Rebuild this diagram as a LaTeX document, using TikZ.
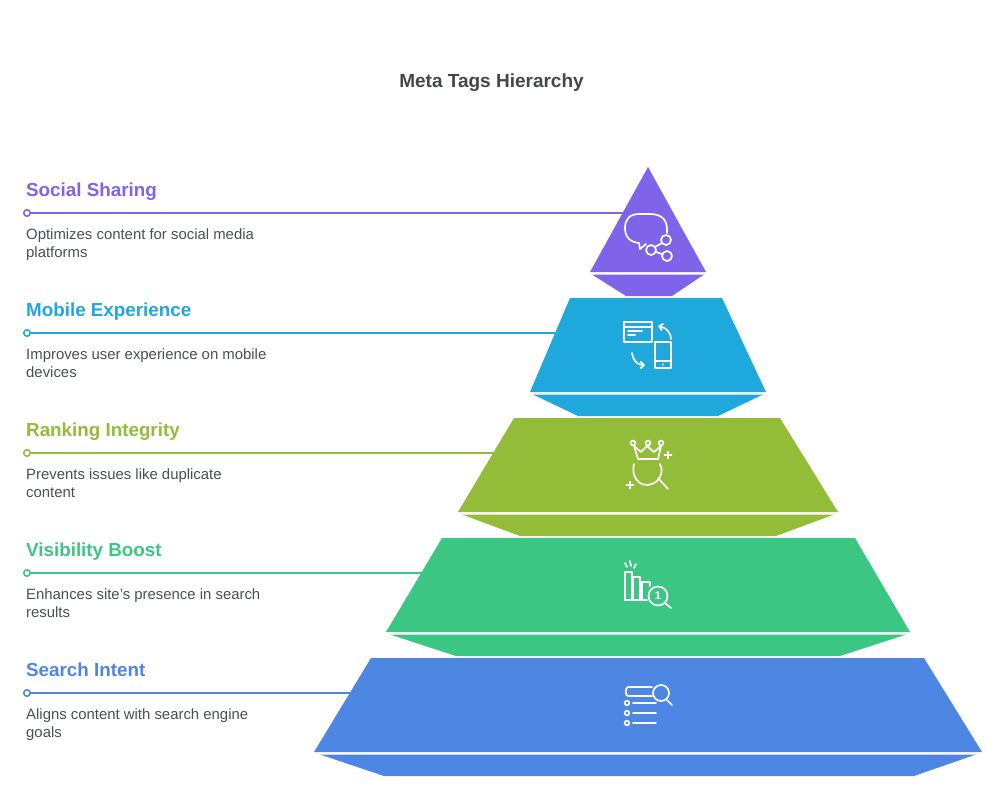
\documentclass[tikz,border=0pt]{standalone}
\usepackage{fontspec}
\setmainfont{Liberation Sans}
\usetikzlibrary{calc, arrows.meta}
\definecolor{socialcolor}{HTML}{7F63E8}
\definecolor{mobilecolor}{HTML}{1FA8DC}
\definecolor{rankingcolor}{HTML}{93BC38}
\definecolor{visibilitycolor}{HTML}{3CC684}
\definecolor{searchcolor}{HTML}{4E86E4}
\definecolor{bodygray}{HTML}{4A4E57}
\tikzset{
    heading/.style={anchor=base west, inner sep=0pt, font=\fontsize{18.8}{22}\selectfont\bfseries},
    blurb/.style={anchor=north west, inner sep=0pt, align=left, text=bodygray,
        font=\fontsize{14.9}{18}\selectfont, execute at begin node=\strut},
    leaderdot/.style={circle, draw, fill=white, line width=1.6pt, inner sep=0pt, minimum size=6.5pt},
    leader/.style={line width=1.6pt},
    iconline/.style={draw=white, line width=1.7pt, line cap=round, line join=round},
    iconarrow/.style={iconline, -{Straight Barb[length=3.5pt,width=7pt]}},
}
\begin{document}
\begin{tikzpicture}[x=1pt, y=-1pt]
    \useasboundingbox (0, 0) rectangle (1008, 804);

    \node[font=\fontsize{19}{22}\selectfont\bfseries, text=bodygray!90!black] (title) at (491.5, 83) {Meta Tags Hierarchy};

    % labels on the left
    \node[heading, text=socialcolor] (social) at (26, 196) {Social Sharing};
    \node[leaderdot, draw=socialcolor] (social_dot) at ($(social.base west)+(1, 17)$) {};
    \coordinate (social_end) at (626, 213);
    \node[blurb] (social_text) at ($(social.base west)+(0, 32.5)$) {Optimizes content for social media\\platforms};
    \draw[leader, socialcolor] (social_dot) -- (social_end);

    \node[heading, text=mobilecolor] (mobile) at (26, 316) {Mobile Experience};
    \node[leaderdot, draw=mobilecolor] (mobile_dot) at ($(mobile.base west)+(1, 17)$) {};
    \coordinate (mobile_end) at (560, 333);
    \node[blurb] (mobile_text) at ($(mobile.base west)+(0, 32.5)$) {Improves user experience on mobile\\devices};
    \draw[leader, mobilecolor] (mobile_dot) -- (mobile_end);

    \node[heading, text=rankingcolor] (ranking) at (26, 436) {Ranking Integrity};
    \node[leaderdot, draw=rankingcolor] (ranking_dot) at ($(ranking.base west)+(1, 17)$) {};
    \coordinate (ranking_end) at (498, 453);
    \node[blurb] (ranking_text) at ($(ranking.base west)+(0, 32.5)$) {Prevents issues like duplicate\\content};
    \draw[leader, rankingcolor] (ranking_dot) -- (ranking_end);

    \node[heading, text=visibilitycolor] (visibility) at (26, 556) {Visibility Boost};
    \node[leaderdot, draw=visibilitycolor] (visibility_dot) at ($(visibility.base west)+(1, 17)$) {};
    \coordinate (visibility_end) at (426, 573);
    \node[blurb] (visibility_text) at ($(visibility.base west)+(0, 32.5)$) {Enhances site's presence in search\\results};
    \draw[leader, visibilitycolor] (visibility_dot) -- (visibility_end);

    \node[heading, text=searchcolor] (search) at (26, 676) {Search Intent};
    \node[leaderdot, draw=searchcolor] (search_dot) at ($(search.base west)+(1, 17)$) {};
    \coordinate (search_end) at (355, 693);
    \node[blurb] (search_text) at ($(search.base west)+(0, 32.5)$) {Aligns content with search engine\\goals};
    \draw[leader, searchcolor] (search_dot) -- (search_end);

    % pyramid
    \fill[socialcolor] (648, 167) -- (706, 272) -- (590, 272) -- cycle;
    \fill[socialcolor] (592, 274.5) -- (704, 274.5) -- (672, 296) -- (626, 296) -- cycle;

    \fill[mobilecolor] (570, 298) -- (722, 298) -- (766, 392) -- (530, 392) -- cycle;
    \fill[mobilecolor] (533, 394.5) -- (763, 394.5) -- (718, 416) -- (578, 416) -- cycle;

    \fill[rankingcolor] (514, 418) -- (780, 418) -- (838, 512) -- (458, 512) -- cycle;
    \fill[rankingcolor] (462, 514.5) -- (834, 514.5) -- (776, 536) -- (520, 536) -- cycle;

    \fill[visibilitycolor] (442, 538) -- (855, 538) -- (910, 632) -- (386, 632) -- cycle;
    \fill[visibilitycolor] (390, 634.5) -- (906, 634.5) -- (840, 656) -- (456, 656) -- cycle;

    \fill[searchcolor] (371, 658) -- (924, 658) -- (982, 752) -- (314, 752) -- cycle;
    \fill[searchcolor] (320, 754.5) -- (976, 754.5) -- (914, 776) -- (384, 776) -- cycle;

    % social icon
    \draw[iconline] (667, 233) .. controls (668, 220) and (662, 214) .. (650, 214)
        -- (639, 214) .. controls (629, 214) and (625, 220) .. (625, 228)
        .. controls (625, 237) and (630, 242) .. (639, 243) -- (640, 249) -- (646, 244);
    \draw[iconline] (666, 240) circle (5);
    \draw[iconline] (651, 250) circle (5);
    \draw[iconline] (667, 256) circle (5);
    \draw[iconline] (662, 243) -- (655, 247);
    \draw[iconline] (656, 252) -- (662, 254);

    % mobile icon
    \draw[iconline] (624, 322) rectangle (652, 342);
    \draw[iconline] (624, 327) -- (652, 327);
    \draw[iconline] (628, 331) -- (642, 331);
    \draw[iconline] (628, 335) -- (635, 335);
    \draw[iconline] (655, 342) rectangle (671, 368);
    \draw[iconline] (655, 361) -- (671, 361);
    \fill[white] (663, 364.5) circle (1.2);
    \draw[iconarrow] (671, 339) .. controls (671, 333) and (667, 328) .. (658, 326);
    \draw[iconarrow] (632, 353) .. controls (633, 360) and (637, 365) .. (645, 365);

    % ranking icon
    \draw[iconline] (638, 459) -- (634, 446) -- (641, 452) -- (647, 446) -- (654, 452) -- (661, 446) -- (658, 459) -- cycle;
    \draw[iconline] (633, 443) circle (2.4);
    \draw[iconline] (648, 443) circle (2.4);
    \draw[iconline] (661, 443) circle (2.4);
    \draw[iconline] (634, 464) .. controls (630, 481) and (645, 491) .. (657, 481) .. controls (662, 476) and (663, 469) .. (660, 464);
    \draw[iconline] (658, 478) -- (668, 489);
    \draw[iconline] (668, 451.5) -- (668, 458.5);
    \draw[iconline] (664.5, 455) -- (671.5, 455);
    \draw[iconline] (630, 481.5) -- (630, 488.5);
    \draw[iconline] (626.5, 485) -- (633.5, 485);

    % visibility icon
    \draw[iconline] (625, 600) -- (625, 572) -- (632, 572) -- (632, 600);
    \draw[iconline] (633.5, 600) -- (633.5, 577) -- (640, 577) -- (640, 600);
    \draw[iconline] (642, 600) -- (642, 582) -- (650, 582) -- (650, 586);
    \draw[iconline] (625, 600) -- (647, 600);
    \draw[iconline] (625, 563) -- (627, 567);
    \draw[iconline] (630, 561) -- (631, 566);
    \draw[iconline] (636, 564) -- (634, 568);
    \draw[iconline] (658, 596) circle (9.5);
    \draw[iconline] (665, 603) -- (671, 608);
    \node[inner sep=0pt, text=white, font=\fontsize{11}{11}\selectfont\bfseries] (visibility_rank) at (658, 596) {1};

    % search icon
    \draw[iconline] (652, 687) -- (628, 687) .. controls (625, 687) and (625, 696) .. (628, 696) -- (652, 696);
    \draw[iconline] (661, 693) circle (8);
    \draw[iconline] (666, 699) -- (672, 705);
    \draw[iconline] (627, 703) circle (2.3);
    \draw[iconline] (627, 713) circle (2.3);
    \draw[iconline] (627, 723) circle (2.3);
    \draw[iconline] (633, 703) -- (656, 703);
    \draw[iconline] (633, 713) -- (656, 713);
    \draw[iconline] (633, 723) -- (656, 723);
\end{tikzpicture}
\end{document}
